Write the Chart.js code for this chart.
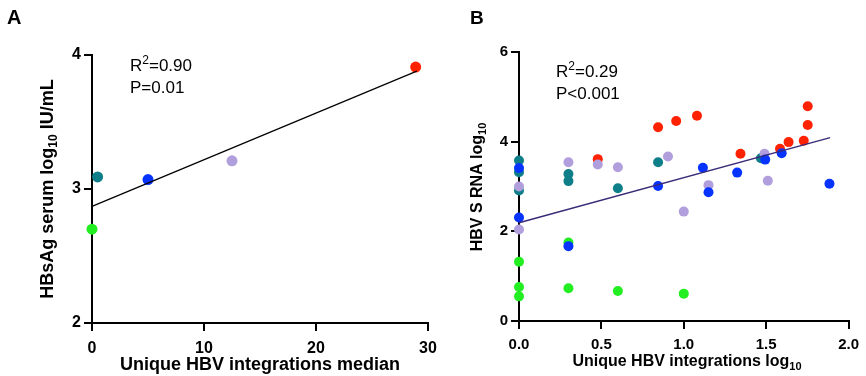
<!DOCTYPE html>
<html>
<head>
<meta charset="utf-8">
<script src="https://cdn.jsdelivr.net/npm/chart.js@4.4.1/dist/chart.umd.min.js"></script>
<style>
  html, body { margin: 0; padding: 0; background: #fff; }
  #wrap { position: relative; width: 866px; height: 376px; }
  canvas { position: absolute; left: 0; top: 0; }
</style>
</head>
<body>
<div id="wrap">
  <canvas id="cA" width="866" height="376"></canvas>
  <canvas id="cB" width="866" height="376"></canvas>
</div>
<script>
// ---------- Panel A data ----------
const aX = [0, 0.5, 5, 12.5, 28.9];
const aY = [2.70, 3.09, 3.07, 3.21, 3.91];
const aFitX = [0, 29];
const aFitY = [2.87, 3.88];
const aXTicks = [0, 10, 20, 30];
const aYTicks = [2, 3, 4];

// ---------- Panel B data ----------
const bRedX = [0.478, 0.844, 0.954, 1.08, 1.344, 1.584, 1.636, 1.728, 1.752, 1.752];
const bRedY = [3.61, 4.32, 4.46, 4.58, 3.73, 3.84, 3.99, 4.02, 4.37, 4.79];
const bLavX = [0, 0, 0.30, 0.478, 0.60, 0.904, 1.0, 1.15, 1.49, 1.51];
const bLavY = [3.00, 2.04, 3.54, 3.49, 3.43, 3.67, 2.44, 3.03, 3.73, 3.13];
const bTealX = [0, 0, 0, 0.30, 0.30, 0.60, 0.844, 1.468];
const bTealY = [3.58, 3.32, 2.91, 3.28, 3.12, 2.96, 3.54, 3.63];
const bBlueX = [0, 0, 0.30, 0.844, 1.116, 1.15, 1.324, 1.494, 1.594, 1.884];
const bBlueY = [3.41, 2.31, 1.67, 3.01, 3.42, 2.87, 3.31, 3.60, 3.74, 3.06];
const bGreenX = [0, 0, 0, 0.30, 0.30, 0.60, 1.0];
const bGreenY = [1.32, 0.76, 0.55, 1.75, 0.73, 0.67, 0.61];
const bFitX = [0, 1.888];
const bFitY = [2.19, 4.09];
const bXTicks = [0, 0.5, 1.0, 1.5, 2.0];
const bYTicks = [0, 2, 4, 6];

// ---------- styles ----------
const C_RED = '#ff2200', C_LAV = '#b09fdc', C_TEAL = '#0e7f88', C_BLUE = '#0633ff', C_GREEN = '#22ee22';
const aColors = [C_GREEN, C_TEAL, C_BLUE, C_LAV, C_RED];
const FONT = '"Liberation Sans", Arial, Helvetica, sans-serif';

function pts(xs, ys) { return xs.map((x, i) => ({ x: x, y: ys[i] })); }

// rich text: segments {t, sub, sup}
function drawRich(ctx, segs, x, y, size, bold, align, rotate) {
  const w = (s) => {
    ctx.font = (bold ? 'bold ' : '') + (s.sub || s.sup ? Math.round(size * 0.68) : size) + 'px ' + FONT;
    return ctx.measureText(s.t).width;
  };
  const total = segs.reduce((a, s) => a + w(s), 0);
  ctx.save();
  ctx.translate(x, y);
  if (rotate) ctx.rotate(-Math.PI / 2);
  let cx = align === 'center' ? -total / 2 : 0;
  ctx.fillStyle = '#000';
  ctx.textBaseline = 'middle';
  ctx.textAlign = 'left';
  segs.forEach(s => {
    const ww = w(s);
    let dy = 0;
    if (s.sub) dy = size * 0.33;
    if (s.sup) dy = -size * 0.3;
    ctx.fillText(s.t, cx, dy);
    cx += ww;
  });
  ctx.restore();
}

const textPlugin = {
  id: 'texts',
  afterDraw(chart, args, opts) {
    const ctx = chart.ctx;
    (opts.items || []).forEach(it => drawRich(ctx, it.segs, it.x, it.y, it.size, it.bold, it.align, it.rotate));
  }
};

function fixedSizes(sizeY, sizeX) {
  return {
    y: (s) => { s.width = sizeY; },
    x: (s) => { s.height = sizeX; }
  };
}

function axisCommon(min, max, ticks, fontSize, fmt, fit, pad) {
  return {
    type: 'linear', min: min, max: max,
    afterBuildTicks: (s) => { s.ticks = ticks.map(v => ({ value: v })); },
    afterFit: fit,
    grid: { display: true, drawOnChartArea: false, drawTicks: true, tickLength: 8, color: '#000', lineWidth: 2 },
    border: { display: true, color: '#000', width: 2 },
    ticks: {
      color: '#000', padding: pad,
      font: { family: FONT, size: fontSize, weight: 'bold' },
      callback: fmt
    }
  };
}

// ---------- Chart A ----------
const fa = fixedSizes(92, 53);
new Chart(document.getElementById('cA'), {
  type: 'scatter',
  data: {
    datasets: [
      { type: 'line', data: pts(aFitX, aFitY), borderColor: '#000', borderWidth: 1.2, pointRadius: 0, fill: false, order: 0, clip: false },
      { data: pts(aX, aY), backgroundColor: aColors, borderWidth: 0, pointRadius: 5.5, order: 1, clip: false }
    ]
  },
  options: {
    responsive: false, animation: false,
    layout: { padding: { left: 0, top: 55, right: 438, bottom: 0 } },
    plugins: {
      legend: { display: false }, tooltip: { enabled: false },
      texts: { items: [
        { segs: [{ t: 'A' }], x: 7, y: 18, size: 20, bold: true, align: 'left' },
        { segs: [{ t: 'R' }, { t: '2', sup: true }, { t: '=0.90' }], x: 130, y: 66, size: 17, bold: false, align: 'left' },
        { segs: [{ t: 'P=0.01' }], x: 130, y: 88, size: 17, bold: false, align: 'left' },
        { segs: [{ t: 'HBsAg serum log' }, { t: '10', sub: true }, { t: ' IU/mL' }], x: 48, y: 189, size: 18, bold: true, align: 'center', rotate: true },
        { segs: [{ t: 'Unique HBV integrations median' }], x: 260, y: 365, size: 18, bold: true, align: 'center' }
      ] }
    },
    scales: {
      x: axisCommon(0, 30, aXTicks, 16, v => String(v), fa.x, 8),
      y: axisCommon(2, 4, aYTicks, 16, v => String(v), fa.y, 3)
    }
  },
  plugins: [textPlugin]
});

// ---------- Chart B ----------
const fb = fixedSizes(519, 55);
new Chart(document.getElementById('cB'), {
  type: 'scatter',
  data: {
    datasets: [
      { type: 'line', data: pts(bFitX, bFitY), borderColor: '#3a2a78', borderWidth: 1.5, pointRadius: 0, fill: false, order: 0, clip: false },
      { data: pts(bBlueX, bBlueY), backgroundColor: C_BLUE, borderWidth: 0, pointRadius: 5, order: 1, clip: false },
      { data: pts(bLavX, bLavY), backgroundColor: C_LAV, borderWidth: 0, pointRadius: 5, order: 2, clip: false },
      { data: pts(bTealX, bTealY), backgroundColor: C_TEAL, borderWidth: 0, pointRadius: 5, order: 3, clip: false },
      { data: pts(bGreenX, bGreenY), backgroundColor: C_GREEN, borderWidth: 0, pointRadius: 5, order: 4, clip: false },
      { data: pts(bRedX, bRedY), backgroundColor: C_RED, borderWidth: 0, pointRadius: 5, order: 5, clip: false }
    ]
  },
  options: {
    responsive: false, animation: false,
    layout: { padding: { left: 0, top: 52, right: 13, bottom: 0 } },
    plugins: {
      legend: { display: false }, tooltip: { enabled: false },
      texts: { items: [
        { segs: [{ t: 'B' }], x: 470, y: 19, size: 19, bold: true, align: 'left' },
        { segs: [{ t: 'R' }, { t: '2', sup: true }, { t: '=0.29' }], x: 556, y: 72, size: 17, bold: false, align: 'left' },
        { segs: [{ t: 'P<0.001' }], x: 556, y: 94, size: 17, bold: false, align: 'left' },
        { segs: [{ t: 'HBV S RNA log' }, { t: '10', sub: true }], x: 478, y: 187, size: 16, bold: true, align: 'center', rotate: true },
        { segs: [{ t: 'Unique HBV integrations log' }, { t: '10', sub: true }], x: 687, y: 362, size: 16, bold: true, align: 'center' }
      ] }
    },
    scales: {
      x: axisCommon(0, 2, bXTicks, 15, v => Number(v).toFixed(1), fb.x, 7),
      y: axisCommon(0, 6, bYTicks, 15, v => String(v), fb.y, 3)
    }
  },
  plugins: [textPlugin]
});
</script>
</body>
</html>
